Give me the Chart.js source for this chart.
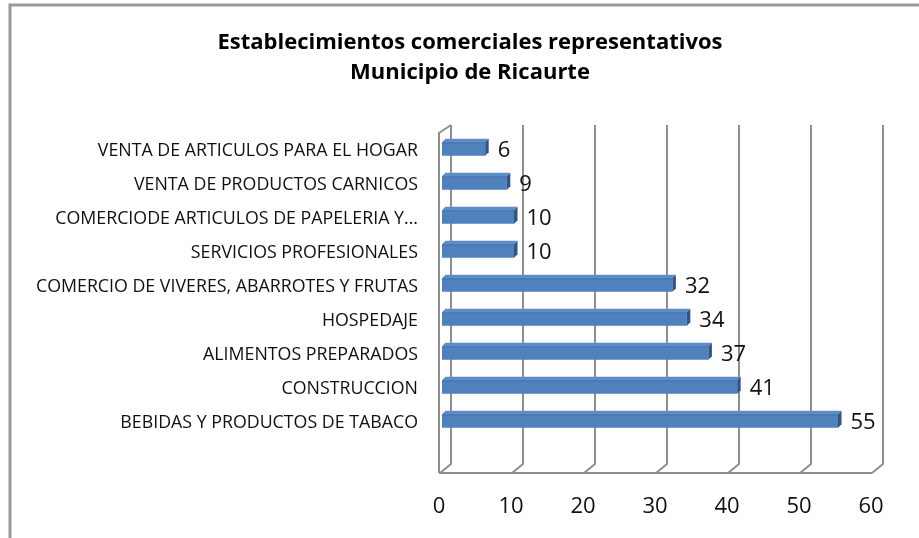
<!DOCTYPE html>
<html>
<head>
<meta charset="utf-8">
<style>
html,body{margin:0;padding:0;background:#fff;}
#wrap{width:919px;height:538px;position:relative;}
</style>
<script src="https://cdn.jsdelivr.net/npm/chart.js@4/dist/chart.umd.min.js"></script>
</head>
<body>
<div id="wrap"><canvas id="c" width="919" height="538"></canvas></div>
<script>
const titleLines = ["Establecimientos comerciales representativos", "Municipio de Ricaurte"];
const categories = [
  "VENTA DE ARTICULOS PARA EL HOGAR",
  "VENTA DE PRODUCTOS CARNICOS",
  "COMERCIODE ARTICULOS DE PAPELERIA Y...",
  "SERVICIOS PROFESIONALES",
  "COMERCIO DE VIVERES, ABARROTES Y FRUTAS",
  "HOSPEDAJE",
  "ALIMENTOS PREPARADOS",
  "CONSTRUCCION",
  "BEBIDAS Y PRODUCTOS DE TABACO"
];
const values = [6, 9, 10, 10, 32, 34, 37, 41, 55];
const xTicks = [0, 10, 20, 30, 40, 50, 60];

const FONT = "'Open Sans', 'Liberation Sans', Arial, sans-serif";

const framePlugin = {
  id: 'frame',
  beforeDraw(chart) {
    const ctx = chart.ctx;
    ctx.save();
    ctx.strokeStyle = '#9a9a9a';
    ctx.lineWidth = 3;
    ctx.beginPath();
    ctx.moveTo(10, 545);
    ctx.lineTo(10, 5);
    ctx.lineTo(930, 5);
    ctx.stroke();
    ctx.fillStyle = '#000';
    ctx.font = "bold 22px " + FONT;
    ctx.textAlign = 'center';
    ctx.textBaseline = 'middle';
    ctx.fillText(titleLines[0], 470, 43);
    ctx.fillText(titleLines[1], 470, 73);
    ctx.restore();
  },
  beforeDatasetsDraw(chart) {
    const ctx = chart.ctx;
    const xs = chart.scales.x;
    const top = 125, floorBack = 464, floorFront = 473;
    const dx = 11, dyTop = 8;
    ctx.save();
    ctx.strokeStyle = '#8f8f8f';
    ctx.lineWidth = 2;
    xTicks.forEach((t) => {
      const fx = xs.getPixelForValue(t) - 2;
      const bx = fx + dx;
      ctx.beginPath();
      ctx.moveTo(bx, top);
      ctx.lineTo(bx, floorBack);
      ctx.lineTo(fx, floorFront);
      ctx.stroke();
    });
    const f0 = xs.getPixelForValue(0) - 2;
    const f1 = xs.getPixelForValue(60) - 2;
    ctx.beginPath();
    ctx.moveTo(f0 - 1, floorFront);
    ctx.lineTo(f1, floorFront);
    ctx.stroke();
    ctx.beginPath();
    ctx.moveTo(f0 - 1, floorFront);
    ctx.lineTo(f0 - 1, top + dyTop);
    ctx.lineTo(f0 + dx, top);
    ctx.stroke();
    ctx.restore();
  },
  afterDatasetsDraw(chart) {
    const ctx = chart.ctx;
    const meta = chart.getDatasetMeta(0);
    const d = 3.5;
    ctx.save();
    meta.data.forEach((bar, i) => {
      const h = bar.height;
      const y0 = bar.y - h / 2, y1 = bar.y + h / 2;
      const x0 = bar.base, x1 = bar.x;
      ctx.fillStyle = '#5d8cc7';
      ctx.beginPath();
      ctx.moveTo(x0, y0);
      ctx.lineTo(x1, y0);
      ctx.lineTo(x1 + d, y0 - d);
      ctx.lineTo(x0 + d, y0 - d);
      ctx.closePath();
      ctx.fill();
      ctx.strokeStyle = '#3f6ea8';
      ctx.lineWidth = 1;
      ctx.beginPath();
      ctx.moveTo(x0, y0 + 0.5);
      ctx.lineTo(x1, y0 + 0.5);
      ctx.stroke();
      ctx.fillStyle = '#2f5587';
      ctx.beginPath();
      ctx.moveTo(x1, y0);
      ctx.lineTo(x1 + d, y0 - d);
      ctx.lineTo(x1 + d, y1 - d);
      ctx.lineTo(x1, y1);
      ctx.closePath();
      ctx.fill();
      ctx.fillStyle = '#111';
      ctx.font = "22px " + FONT;
      ctx.textAlign = 'left';
      ctx.textBaseline = 'middle';
      ctx.fillText(String(values[i]), x1 + d + 9, bar.y + 2);
    });
    ctx.restore();
  }
};

const ctx = document.getElementById('c').getContext('2d');
new Chart(ctx, {
  type: 'bar',
  data: {
    labels: categories,
    datasets: [{
      data: values,
      backgroundColor: '#4f81bd',
      borderWidth: 0,
      barPercentage: 0.78,
      categoryPercentage: 0.5
    }]
  },
  options: {
    indexAxis: 'y',
    responsive: false,
    animation: false,
    events: [],
    layout: { padding: { left: 0, right: 45, top: 132, bottom: 19 } },
    plugins: { legend: { display: false }, title: { display: false }, tooltip: { enabled: false } },
    scales: {
      x: {
        min: 0, max: 60,
        afterBuildTicks(scale) { scale.ticks = xTicks.map(v => ({ value: v })); },
        afterFit(scale) { scale.height = 81; scale.paddingLeft = 0; scale.paddingRight = 0; },
        grid: { display: false, drawTicks: false },
        border: { display: false },
        ticks: { color: '#111', font: { family: FONT, size: 22 }, padding: 56, maxRotation: 0, labelOffset: -3 }
      },
      y: {
        afterFit(scale) { scale.width = 442; scale.paddingTop = 0; scale.paddingBottom = 0; },
        grid: { display: false, drawTicks: false },
        border: { display: false },
        ticks: { color: '#111', font: { family: FONT, size: 17.8 }, padding: 24, autoSkip: false, labelOffset: 2 }
      }
    }
  },
  plugins: [framePlugin]
});
</script>
</body>
</html>
